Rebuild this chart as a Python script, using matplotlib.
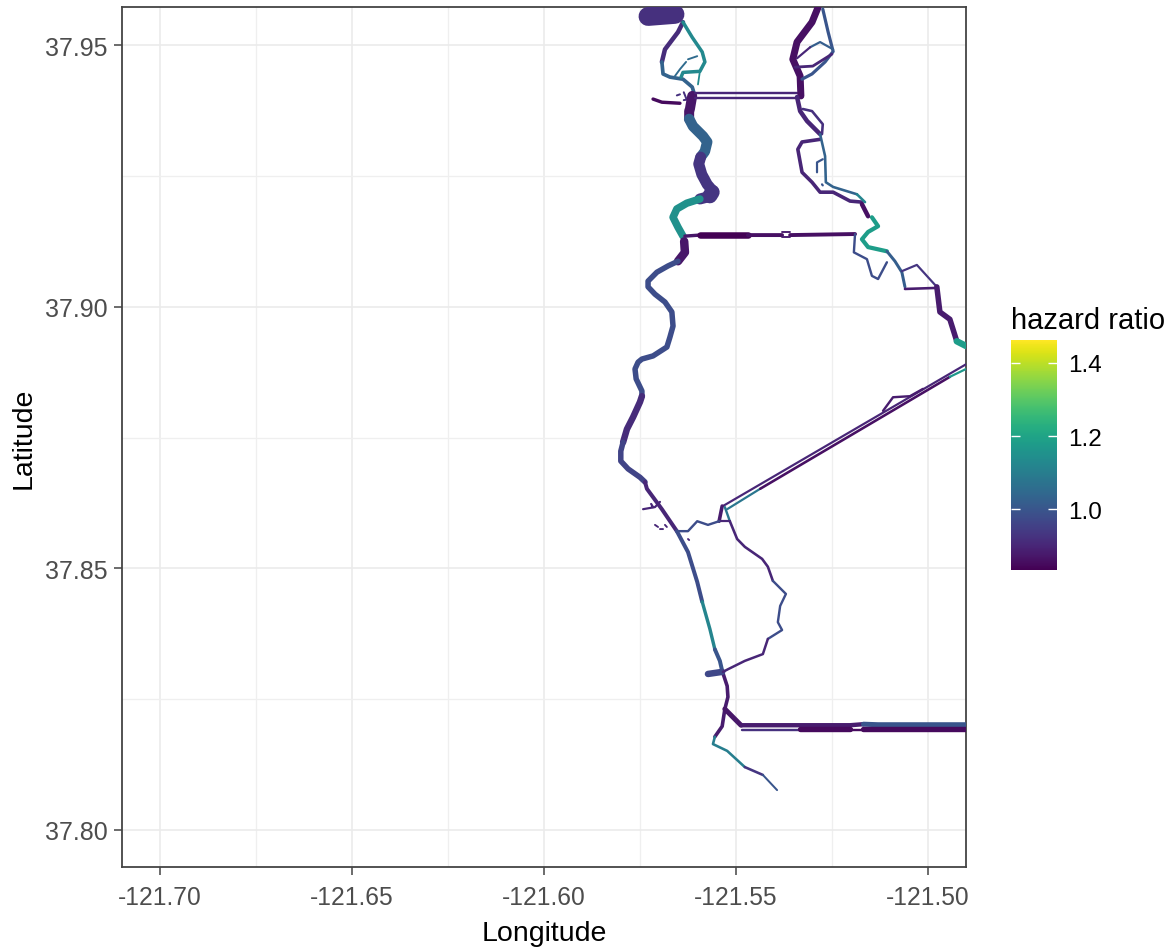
import numpy as np
import matplotlib
matplotlib.use("Agg")
import matplotlib.pyplot as plt
from matplotlib import cm
from matplotlib.colors import Normalize

plt.rcParams['font.family'] = ['Liberation Sans', 'DejaVu Sans']

# Axis ticks and range
x_major = [-121.70, -121.65, -121.60, -121.55, -121.50]
x_minor = [-121.675, -121.625, -121.575, -121.525]
y_major = [37.80, 37.85, 37.90, 37.95]
y_minor = [37.825, 37.875, 37.925]
x_range = [-121.7099, -121.4901]
y_range = [37.7929, 37.9573]

# Legend
hr_range = [0.833, 1.463]
hr_ticks = [1.0, 1.2, 1.4]

# West channel (lon, lat)
lon_blob = [-121.5729, -121.5659]
lat_blob = [37.9555, 37.9559]
lon_west_loop_a = [-121.5638, -121.5651, -121.5685, -121.5693]
lat_west_loop_a = [37.9544, 37.9525, 37.9492, 37.9468]
lon_west_loop_b = [-121.5693, -121.5690, -121.5672, -121.5638, -121.5614, -121.5607]
lat_west_loop_b = [37.9468, 37.9445, 37.9439, 37.9435, 37.9420, 37.9403]
lon_west_east = [-121.5638, -121.5614, -121.5588, -121.5581, -121.5594, -121.5638, -121.5643]
lat_west_east = [37.9544, 37.9515, 37.9487, 37.9468, 37.9450, 37.9448, 37.9439]
lon_west_spur = [-121.5594, -121.5599]
lat_west_spur = [37.9450, 37.9425]
lon_west_dash = [-121.5601, -121.5625, np.nan, -121.5630, -121.5646, -121.5659]
lat_west_dash = [37.9479, 37.9473, np.nan, 37.9468, 37.9454, 37.9441]
lon_stub = [-121.5716, -121.5693, -121.5646]
lat_stub = [37.9397, 37.9391, 37.9389]
lon_clutter = [-121.5654, -121.5646, np.nan, -121.5636, -121.5630, np.nan, -121.5636, -121.5620]
lat_clutter = [37.9404, 37.9406, np.nan, 37.9410, 37.9399, np.nan, 37.9395, 37.9397]

lon_main_a = [-121.5614, -121.5620, -121.5622, -121.5622]
lat_main_a = [37.9403, 37.9378, 37.9374, 37.9359]
lon_main_b = [-121.5622, -121.5612, -121.5586, -121.5575, -121.5581, -121.5592]
lat_main_b = [37.9359, 37.9345, 37.9326, 37.9315, 37.9297, 37.9286]
lon_main_c = [-121.5592, -121.5597, -121.5589, -121.5575, -121.5560, -121.5573, -121.5594]
lat_main_c = [37.9286, 37.9273, 37.9253, 37.9234, 37.9221, 37.9210, 37.9206]
lon_main_bulge = [-121.5562, -121.5568]
lat_main_bulge = [37.9219, 37.9212]
lon_main_d = [-121.5594, -121.5628, -121.5654, -121.5664, -121.5651, -121.5638]
lat_main_d = [37.9206, 37.9198, 37.9187, 37.9171, 37.9152, 37.9135]
lon_main_e = [-121.5635, -121.5633, -121.5651]
lat_main_e = [37.9125, 37.9104, 37.9087]
lon_main_f = [-121.5651, -121.5677, -121.5706, -121.5729, -121.5729, -121.5711, -121.5685, -121.5667,
              -121.5664, -121.5672, -121.5680, -121.5716, -121.5745, -121.5755, -121.5763, -121.5760,
              -121.5745, -121.5745]
lat_main_f = [37.9087, 37.9078, 37.9066, 37.9049, 37.9038, 37.9024, 37.9009, 37.8990,
              37.8963, 37.8942, 37.8923, 37.8906, 37.8900, 37.8894, 37.8881, 37.8862,
              37.8839, 37.8829]
lon_main_g = [-121.5745, -121.5750, -121.5768, -121.5784, -121.5794]
lat_main_g = [37.8829, 37.8818, 37.8789, 37.8766, 37.8741]
lon_main_h = [-121.5794, -121.5800, -121.5800, -121.5781, -121.5750, -121.5737]
lat_main_h = [37.8741, 37.8724, 37.8705, 37.8690, 37.8674, 37.8665]
lon_main_i = [-121.5737, -121.5732, -121.5693, -121.5654]
lat_main_i = [37.8665, 37.8652, 37.8613, 37.8571]
lon_main_j = [-121.5654, -121.5625, -121.5601, -121.5588]
lat_main_j = [37.8571, 37.8531, 37.8474, 37.8436]
lon_main_k = [-121.5588, -121.5568, -121.5555]
lat_main_k = [37.8436, 37.8384, 37.8345]
lon_main_l = [-121.5555, -121.5542, -121.5536]
lat_main_l = [37.8345, 37.8323, 37.8304]
lon_main_m = [-121.5536, -121.5523, -121.5521, -121.5529, -121.5536, -121.5555]
lat_main_m = [37.8304, 37.8275, 37.8254, 37.8231, 37.8198, 37.8178]
lon_main_n = [-121.5555, -121.5560, -121.5523, -121.5477]
lat_main_n = [37.8178, 37.8164, 37.8151, 37.8120]
lon_main_o = [-121.5477, -121.5430]
lat_main_o = [37.8120, 37.8105]
lon_main_p = [-121.5430, -121.5393]
lat_main_p = [37.8105, 37.8076]
lon_side_stub = [-121.5573, -121.5536]
lat_side_stub = [37.8298, 37.8302]

# Southern cut and its canal pair
lon_south_cut = [-121.5529, -121.5487]
lat_south_cut = [37.8231, 37.8200]
lon_canal_s_upper_a = [-121.5484, -121.5333, -121.5203, -121.5168]
lat_canal_s_upper_a = [37.8200, 37.8200, 37.8200, 37.8202]
lon_canal_s_upper_b = [-121.5168, -121.5130, -121.4901]
lat_canal_s_upper_b = [37.8202, 37.8201, 37.8201]
lon_canal_s_lower_a = [-121.5484, -121.5333]
lat_canal_s_lower_a = [37.8190, 37.8190]
lon_canal_s_lower_b = [-121.5333, -121.5203, np.nan, -121.5168, -121.4901]
lat_canal_s_lower_b = [37.8193, 37.8193, np.nan, 37.8193, 37.8193]
lon_canal_s_spot = [-121.5203, -121.5168]
lat_canal_s_spot = [37.8190, 37.8190]

# Two northern canals
lon_canal_n = [-121.5607, -121.5341]
lat_canal_n_upper = [37.9408, 37.9408]
lat_canal_n_lower = [37.9399, 37.9399]
lon_canal_m_a = [-121.5633, -121.5594]
lat_canal_m_a = [37.9135, 37.9137]
lon_canal_m_b = [-121.5594, -121.5469]
lat_canal_m_b = [37.9137, 37.9137]
lon_canal_m_c = [-121.5469, -121.5380, np.nan, -121.5359, -121.5190]
lat_canal_m_c = [37.9137, 37.9137, np.nan, 37.9137, 37.9139]
lon_canal_m_d = [-121.5380, -121.5359, np.nan, -121.5380, -121.5359]
lat_canal_m_d = [37.9142, 37.9142, np.nan, 37.9133, 37.9133]

# East channel
lon_east_a = [-121.5287, -121.5302, -121.5341, -121.5352, -121.5333, -121.5331]
lat_east_a = [37.9571, 37.9544, 37.9506, 37.9473, 37.9441, 37.9403]
lon_east_b = [-121.5274, -121.5260, -121.5247, -121.5268, -121.5302, -121.5328]
lat_east_b = [37.9569, 37.9525, 37.9488, 37.9468, 37.9445, 37.9435]
lon_east_inner = [-121.5247, -121.5281, -121.5307]
lat_east_inner = [37.9492, 37.9506, 37.9496]
lon_east_inner_b = [-121.5307, -121.5341]
lat_east_inner_b = [37.9496, 37.9475]
lon_east_cross = [-121.5346, -121.5300, -121.5250]
lat_east_cross = [37.9458, 37.9460, 37.9483]
lon_east_c = [-121.5341, -121.5333, -121.5315, -121.5281]
lat_east_c = [37.9401, 37.9374, 37.9355, 37.9330]
lon_east_d = [-121.5326, -121.5302, -121.5274, -121.5276]
lat_east_d = [37.9378, 37.9374, 37.9349, 37.9330]
lon_east_e = [-121.5281, -121.5328, -121.5339, -121.5328, -121.5302, -121.5281, -121.5247, -121.5203, -121.5172]
lat_east_e = [37.9320, 37.9315, 37.9301, 37.9257, 37.9238, 37.9219, 37.9219, 37.9202, 37.9200]
lon_east_f = [-121.5281, -121.5268, -121.5266, -121.5247, -121.5185]
lat_east_f = [37.9330, 37.9288, 37.9238, 37.9229, 37.9215]
lon_east_f_end = [-121.5185, -121.5164]
lat_east_f_end = [37.9215, 37.9200]
lon_east_dash = [-121.5274, -121.5289, -121.5289, np.nan, -121.5276, -121.5274]
lat_east_dash = [37.9282, 37.9276, 37.9257, np.nan, 37.9234, 37.9232]
lon_east_g = [-121.5172, -121.5156]
lat_east_g = [37.9196, 37.9173]
lon_teal_zig = [-121.5146, -121.5130, -121.5156, -121.5172, -121.5156, -121.5107]
lat_teal_zig = [37.9171, 37.9154, 37.9143, 37.9129, 37.9114, 37.9106]
lon_east_h = [-121.5107, -121.5086, -121.5068, -121.5060]
lat_east_h = [37.9106, 37.9087, 37.9066, 37.9038]
lon_east_oxbow = [-121.5190, -121.5193, -121.5159, -121.5146, -121.5130, -121.5107]
lat_east_oxbow = [37.9139, 37.9104, 37.9091, 37.9059, 37.9053, 37.9085]
lon_east_j = [-121.5060, -121.4977]
lat_east_j = [37.9034, 37.9036]
lon_east_k = [-121.5068, -121.5029, -121.4977]
lat_east_k = [37.9068, 37.9080, 37.9038]
lon_east_m = [-121.4977, -121.4969, -121.4943, -121.4925]
lat_east_m = [37.9038, 37.8990, 37.8976, 37.8934]
lon_east_n = [-121.4925, -121.4901]
lat_east_n = [37.8934, 37.8925]

# Diagonal canal pair
lon_diag_upper = [-121.5534, -121.4901]
lat_diag_upper = [37.8619, 37.8890]
lon_diag_lower_a = [-121.5523, -121.5437]
lat_diag_lower_a = [37.8613, 37.8652]
lon_diag_lower_b = [-121.5437, -121.4943]
lat_diag_lower_b = [37.8652, 37.8866]
lon_diag_lower_c = [-121.4943, -121.4901]
lat_diag_lower_c = [37.8866, 37.8881]
lon_diag_bump = [-121.5117, -121.5091, -121.5047, -121.5013]
lat_diag_bump = [37.8801, 37.8827, 37.8829, 37.8843]

# Slough loop south of the diagonal
lon_junction_w = [-121.5536, -121.5544]
lat_junction_w = [37.8619, 37.8590]
lon_junction_e = [-121.5529, -121.5516]
lat_junction_e = [37.8617, 37.8590]
lon_junction_s = [-121.5544, -121.5516]
lat_junction_s = [37.8590, 37.8590]
lon_slough_a = [-121.5516, -121.5497, -121.5477, -121.5432, -121.5417, -121.5404]
lat_slough_a = [37.8590, 37.8556, 37.8541, 37.8518, 37.8503, 37.8476]
lon_slough_b = [-121.5404, -121.5370, -121.5385, -121.5391, -121.5380, -121.5417]
lat_slough_b = [37.8476, 37.8451, 37.8428, 37.8397, 37.8382, 37.8365]
lon_slough_c = [-121.5417, -121.5430, -121.5477, -121.5521, -121.5534]
lat_slough_c = [37.8365, 37.8336, 37.8323, 37.8307, 37.8302]
lon_link = [-121.5654, -121.5625, -121.5601, -121.5573, -121.5544]
lat_link = [37.8571, 37.8571, 37.8590, 37.8583, 37.8590]
lon_west_bits = [-121.5742, -121.5711, -121.5698, np.nan, -121.5721, -121.5716]
lat_west_bits = [37.8613, 37.8617, 37.8627, np.nan, 37.8623, 37.8617]
lon_west_dots = [-121.5711, -121.5703, np.nan, -121.5698, -121.5690, np.nan, -121.5685, -121.5680, np.nan, -121.5625, -121.5622]
lat_west_dots = [37.8583, 37.8579, np.nan, 37.8575, 37.8575, np.nan, 37.8583, 37.8579, np.nan, 37.8556, 37.8554]

# lon, lat, hazard ratio, channel width in pixels of the original
reaches = [
    (lon_blob, lat_blob, 0.92, 19),
    (lon_west_loop_a, lat_west_loop_a, 0.91, 4.5),
    (lon_west_loop_b, lat_west_loop_b, 1.03, 3.7),
    (lon_west_east, lat_west_east, 1.13, 3.5),
    (lon_west_spur, lat_west_spur, 1.13, 1.8),
    (lon_west_dash, lat_west_dash, 1.05, 1.9),
    (lon_stub, lat_stub, 0.85, 3.4),
    (lon_clutter, lat_clutter, 0.92, 2),
    (lon_main_a, lat_main_a, 0.87, 10),
    (lon_main_b, lat_main_b, 1.03, 10.5),
    (lon_main_c, lat_main_c, 0.93, 11),
    (lon_main_bulge, lat_main_bulge, 0.93, 15),
    (lon_main_d, lat_main_d, 1.15, 7.5),
    (lon_main_e, lat_main_e, 0.87, 8.5),
    (lon_main_f, lat_main_f, 0.98, 5.5),
    (lon_main_g, lat_main_g, 0.91, 6.5),
    (lon_main_h, lat_main_h, 0.96, 5.5),
    (lon_main_i, lat_main_i, 0.9, 4),
    (lon_main_j, lat_main_j, 0.98, 4),
    (lon_main_k, lat_main_k, 1.12, 3.4),
    (lon_main_l, lat_main_l, 1.0, 4),
    (lon_main_m, lat_main_m, 0.88, 3.6),
    (lon_main_n, lat_main_n, 1.1, 2.6),
    (lon_main_o, lat_main_o, 0.93, 2.6),
    (lon_main_p, lat_main_p, 1.0, 2),
    (lon_side_stub, lat_side_stub, 0.97, 6.5),
    (lon_south_cut, lat_south_cut, 0.87, 5),
    (lon_canal_s_upper_a, lat_canal_s_upper_a, 0.88, 4.4),
    (lon_canal_s_upper_b, lat_canal_s_upper_b, 1.0, 5),
    (lon_canal_s_lower_a, lat_canal_s_lower_a, 0.92, 2.4),
    (lon_canal_s_lower_b, lat_canal_s_lower_b, 0.85, 5.4),
    (lon_canal_s_spot, lat_canal_s_spot, 0.85, 2.4),
    (lon_canal_n, lat_canal_n_upper, 0.9, 2.4),
    (lon_canal_n, lat_canal_n_lower, 0.9, 2.4),
    (lon_canal_m_a, lat_canal_m_a, 0.87, 3.4),
    (lon_canal_m_b, lat_canal_m_b, 0.83, 6.5),
    (lon_canal_m_c, lat_canal_m_c, 0.86, 3.9),
    (lon_canal_m_d, lat_canal_m_d, 0.88, 1.9),
    (lon_east_a, lat_east_a, 0.86, 7),
    (lon_east_b, lat_east_b, 1.0, 3.2),
    (lon_east_inner, lat_east_inner, 1.02, 2.2),
    (lon_east_inner_b, lat_east_inner_b, 0.9, 2.2),
    (lon_east_cross, lat_east_cross, 0.9, 2.8),
    (lon_east_c, lat_east_c, 0.9, 4.5),
    (lon_east_d, lat_east_d, 0.92, 2.6),
    (lon_east_e, lat_east_e, 0.9, 3.6),
    (lon_east_f, lat_east_f, 1.03, 2.6),
    (lon_east_f_end, lat_east_f_end, 1.12, 2.6),
    (lon_east_dash, lat_east_dash, 1.0, 2.2),
    (lon_east_g, lat_east_g, 0.86, 4.5),
    (lon_teal_zig, lat_teal_zig, 1.18, 4.2),
    (lon_east_h, lat_east_h, 1.02, 3),
    (lon_east_oxbow, lat_east_oxbow, 0.98, 2.4),
    (lon_east_j, lat_east_j, 0.88, 2.6),
    (lon_east_k, lat_east_k, 0.93, 2.2),
    (lon_east_m, lat_east_m, 0.88, 5.5),
    (lon_east_n, lat_east_n, 1.18, 6.5),
    (lon_diag_upper, lat_diag_upper, 0.9, 2.2),
    (lon_diag_lower_a, lat_diag_lower_a, 1.08, 2.2),
    (lon_diag_lower_b, lat_diag_lower_b, 0.86, 2.6),
    (lon_diag_lower_c, lat_diag_lower_c, 1.17, 2.2),
    (lon_diag_bump, lat_diag_bump, 0.88, 2.4),
    (lon_junction_w, lat_junction_w, 0.88, 3.6),
    (lon_junction_e, lat_junction_e, 1.08, 2.4),
    (lon_junction_s, lat_junction_s, 0.9, 2.2),
    (lon_slough_a, lat_slough_a, 0.9, 2.6),
    (lon_slough_b, lat_slough_b, 0.98, 2.4),
    (lon_slough_c, lat_slough_c, 0.9, 2.5),
    (lon_link, lat_link, 0.98, 2.4),
    (lon_west_bits, lat_west_bits, 0.9, 2.2),
    (lon_west_dots, lat_west_dots, 0.9, 1.9),
]

W, H = 1173, 953
fig = plt.figure(figsize=(W / 100, H / 100), dpi=100)
ax = fig.add_axes([122 / W, 1 - 868 / H, (966 - 122) / W, (868 - 8) / H])

norm = Normalize(hr_range[0], hr_range[1])
cmap = matplotlib.colormaps['viridis']
px = 0.72  # one pixel in points

# Grid like theme_bw
ax.set_axisbelow(True)
ax.set_xticks(x_major)
ax.set_yticks(y_major)
ax.set_xticks(x_minor, minor=True)
ax.set_yticks(y_minor, minor=True)
ax.grid(True, which='major', color='#EBEBEB', linewidth=1.2)
ax.grid(True, which='minor', color='#EFEFEF', linewidth=0.9)
ax.tick_params(axis='both', which='minor', length=0)
ax.tick_params(axis='x', which='major', length=5.5, width=1.1, color='#444444',
               labelcolor='#4D4D4D', labelsize=17.7, pad=7.3)
ax.tick_params(axis='y', which='major', length=5.5, width=1.1, color='#444444',
               labelcolor='#4D4D4D', labelsize=18, pad=5)
ax.set_xticklabels([f'{v:.2f}' for v in x_major])
ax.set_yticklabels([f'{v:.2f}' for v in y_major])

for lon, lat, hr, width in reaches:
    ax.plot(lon, lat, color=cmap(norm(hr)), linewidth=width * px,
            solid_capstyle='round', solid_joinstyle='round', zorder=3)

ax.set_xlim(x_range)
ax.set_ylim(y_range)
for side in ax.spines.values():
    side.set_color('#444444')
    side.set_linewidth(1.3)

ax.set_xlabel('Longitude', fontsize=20.5, labelpad=8)
ax.set_ylabel('Latitude', fontsize=20.5, labelpad=5.5)

# Colour bar legend
cax = fig.add_axes([1011 / W, 1 - 571 / H, 46 / W, 230 / H])
cbar = fig.colorbar(cm.ScalarMappable(norm=norm, cmap=cmap), cax=cax)
cbar.outline.set_visible(False)
cbar.set_ticks(hr_ticks)
cbar.set_ticklabels([f'{v:.1f}' for v in hr_ticks])
cax.tick_params(length=0, labelsize=17.5, pad=8, labelcolor='black')
trans = cax.get_yaxis_transform()
cax.hlines(hr_ticks, 0, 0.2, color='white', linewidth=1, transform=trans)
cax.hlines(hr_ticks, 0.8, 1, color='white', linewidth=1, transform=trans)
fig.text(1011 / W, 1 - 321 / H, 'hazard ratio', fontsize=21, ha='left', va='center')

fig.savefig('out.png', dpi=100)
